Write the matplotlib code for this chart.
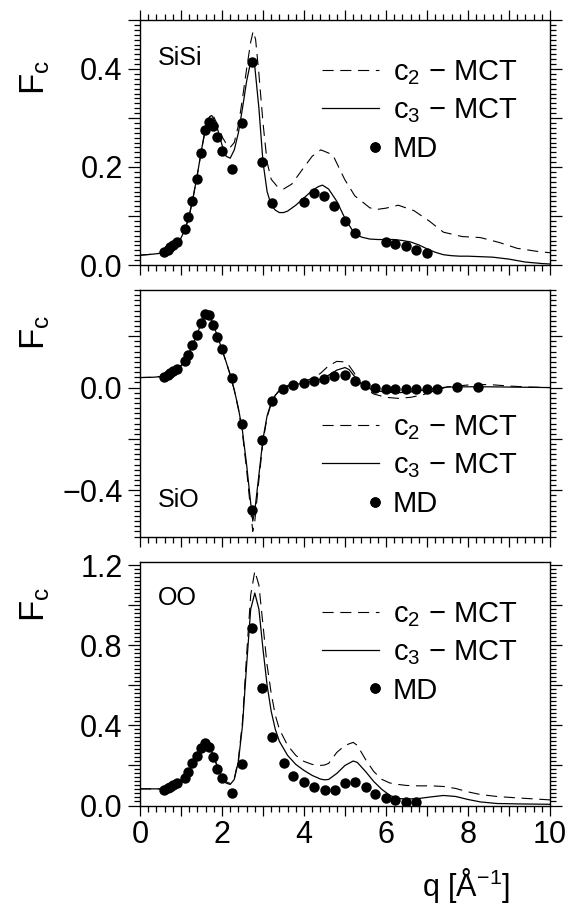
import numpy as np
import matplotlib
matplotlib.use("Agg")
import matplotlib.pyplot as plt
from matplotlib.ticker import MultipleLocator, FuncFormatter
from matplotlib.legend_handler import HandlerLine2D

plt.rcParams['font.family'] = ['Liberation Sans', 'DejaVu Sans']
plt.rcParams['mathtext.fontset'] = 'custom'
plt.rcParams['mathtext.rm'] = 'Liberation Sans'
plt.rcParams['mathtext.it'] = 'Liberation Sans:italic'
plt.rcParams['mathtext.default'] = 'regular'

# ---- MD points (same q grid for all three partials) ----
q_md = [0.59, 0.68, 0.74, 0.81, 0.90, 1.09, 1.18, 1.27, 1.38, 1.49, 1.59, 1.68,
        1.79, 1.89, 1.99, 2.24, 2.49, 2.73, 2.98, 3.23]

# SiSi
q_md_sisi = q_md + [3.99, 4.25, 4.48, 4.73, 4.99, 5.24, 5.99, 6.23, 6.49, 6.74, 7.0]
f_md_sisi = [0.026, 0.031, 0.036, 0.041, 0.046, 0.073, 0.098, 0.131, 0.175, 0.228,
             0.275, 0.292, 0.284, 0.261, 0.233, 0.196, 0.289, 0.415, 0.211, 0.126,
             0.128, 0.147, 0.140, 0.121, 0.090, 0.065, 0.046, 0.043, 0.039, 0.031, 0.024]

q_sisi = [0.0, 0.3, 0.6, 0.8, 0.9, 1.0, 1.1, 1.2, 1.3, 1.4, 1.5, 1.6, 1.7, 1.75, 1.8,
          1.9, 2.0, 2.1, 2.2, 2.3, 2.4, 2.5, 2.6, 2.7, 2.75, 2.8, 2.9, 3.0, 3.1, 3.2,
          3.3, 3.4, 3.5, 3.6, 3.8, 4.0, 4.2, 4.35, 4.45, 4.6, 4.8, 5.0, 5.2, 5.4, 5.6,
          5.8, 6.0, 6.2, 6.4, 6.6, 6.8, 7.0, 7.2, 7.4, 7.6, 7.8, 8.0, 8.3, 8.6, 9.0,
          9.4, 9.8, 10.0]
c3_sisi = [0.020, 0.022, 0.025, 0.038, 0.045, 0.055, 0.073, 0.100, 0.140, 0.185,
           0.235, 0.280, 0.303, 0.305, 0.298, 0.275, 0.245, 0.222, 0.218, 0.235,
           0.270, 0.320, 0.375, 0.415, 0.420, 0.405, 0.320, 0.210, 0.150, 0.122,
           0.112, 0.107, 0.107, 0.110, 0.122, 0.137, 0.152, 0.160, 0.163, 0.155,
           0.130, 0.095, 0.068, 0.057, 0.053, 0.052, 0.052, 0.052, 0.050, 0.047,
           0.041, 0.033, 0.026, 0.021, 0.019, 0.018, 0.018, 0.017, 0.016, 0.012,
           0.006, 0.003, 0.002]
q_sisi2 = [0.0, 0.3, 0.6, 0.8, 0.9, 1.0, 1.1, 1.2, 1.3, 1.4, 1.5, 1.6, 1.7, 1.75, 1.8,
           1.9, 2.0, 2.1, 2.2, 2.3, 2.4, 2.5, 2.6, 2.7, 2.76, 2.82, 2.9, 3.0, 3.1,
           3.2, 3.35, 3.5, 3.7, 3.97, 4.2, 4.41, 4.7, 4.99, 5.24, 5.6, 5.74, 6.0,
           6.3, 6.68, 7.05, 7.4, 7.86, 8.3, 8.76, 9.2, 9.67, 10.0]
c2_sisi = [0.020, 0.022, 0.025, 0.038, 0.045, 0.055, 0.073, 0.100, 0.140, 0.185,
           0.235, 0.280, 0.303, 0.307, 0.302, 0.285, 0.262, 0.248, 0.240, 0.250,
           0.285, 0.340, 0.400, 0.455, 0.477, 0.460, 0.390, 0.290, 0.210, 0.175,
           0.160, 0.155, 0.165, 0.196, 0.222, 0.235, 0.225, 0.175, 0.141, 0.117,
           0.113, 0.116, 0.122, 0.111, 0.090, 0.067, 0.058, 0.056, 0.046, 0.034,
           0.028, 0.025]

# SiO
q_md_sio = q_md + [3.49, 3.74, 3.99, 4.25, 4.49, 4.73, 4.99, 5.24, 5.48, 5.74, 5.99,
                   6.23, 6.49, 6.74, 6.99, 7.24, 7.74, 8.25]
f_md_sio = [0.043, 0.050, 0.056, 0.063, 0.072, 0.102, 0.128, 0.167, 0.206, 0.252,
            0.287, 0.282, 0.245, 0.197, 0.151, 0.037, -0.140, -0.475, -0.205, -0.052,
            -0.007, 0.010, 0.017, 0.027, 0.035, 0.046, 0.050, 0.027, 0.010, -0.003,
            -0.007, -0.007, -0.007, -0.007, -0.007, -0.004, 0.001, 0.001]

q_sio = [0.0, 0.3, 0.6, 0.8, 1.0, 1.2, 1.4, 1.5, 1.6, 1.65, 1.7, 1.8, 1.9, 2.0, 2.1,
         2.2, 2.3, 2.4, 2.5, 2.6, 2.7, 2.75, 2.8, 2.9, 3.0, 3.1, 3.2, 3.3, 3.4, 3.6,
         3.8, 4.0, 4.2, 4.4, 4.6, 4.8, 5.0, 5.1, 5.2, 5.35, 5.5, 5.7, 6.0, 6.3, 6.6,
         6.9, 7.2, 7.5, 8.0, 8.5, 9.0, 9.5, 10.0]
c3_sio = [0.039, 0.040, 0.044, 0.060, 0.085, 0.135, 0.210, 0.255, 0.285, 0.288,
          0.280, 0.240, 0.195, 0.148, 0.100, 0.050, -0.010, -0.080, -0.170, -0.300,
          -0.450, -0.520, -0.480, -0.340, -0.200, -0.110, -0.060, -0.030, -0.012,
          0.003, 0.012, 0.018, 0.025, 0.033, 0.048, 0.068, 0.078, 0.070, 0.050,
          0.020, 0.003, -0.010, -0.018, -0.020, -0.017, -0.010, -0.003, 0.002,
          0.003, 0.003, 0.002, 0.001, 0.000]
c2_sio = [0.039, 0.040, 0.044, 0.060, 0.085, 0.135, 0.210, 0.255, 0.285, 0.288,
          0.280, 0.240, 0.195, 0.148, 0.100, 0.050, -0.010, -0.085, -0.180, -0.320,
          -0.480, -0.560, -0.520, -0.360, -0.210, -0.115, -0.062, -0.030, -0.010,
          0.008, 0.018, 0.025, 0.035, 0.055, 0.085, 0.102, 0.100, 0.085, 0.063,
          0.025, -0.005, -0.025, -0.038, -0.042, -0.038, -0.028, -0.012, 0.003,
          0.010, 0.012, 0.006, 0.002, 0.000]

# OO
q_md_oo = q_md + [3.50, 3.74, 4.00, 4.24, 4.50, 4.75, 5.00, 5.25, 5.50, 5.74, 5.99,
                  6.23, 6.49, 6.74]
f_md_oo = [0.077, 0.086, 0.094, 0.102, 0.111, 0.139, 0.169, 0.211, 0.249, 0.289,
           0.314, 0.294, 0.241, 0.181, 0.136, 0.064, 0.205, 0.884, 0.588, 0.340,
           0.214, 0.149, 0.117, 0.092, 0.077, 0.077, 0.112, 0.119, 0.091, 0.058,
           0.037, 0.025, 0.017, 0.015]

q_oo = [0.0, 0.5, 0.6, 0.8, 1.0, 1.2, 1.4, 1.5, 1.6, 1.7, 1.8, 1.9, 2.0, 2.1, 2.2,
        2.3, 2.4, 2.5, 2.6, 2.7, 2.8, 2.9, 3.0, 3.1, 3.2, 3.3, 3.4, 3.6, 3.8, 4.0,
        4.2, 4.4, 4.5, 4.6, 4.8, 5.0, 5.2, 5.3, 5.5, 5.7, 5.9, 6.1, 6.3, 6.5, 6.8,
        7.1, 7.4, 7.7, 8.0, 8.3, 8.7, 9.2, 10.0]
c3_oo = [0.083, 0.083, 0.080, 0.100, 0.125, 0.175, 0.250, 0.285, 0.305, 0.290,
         0.240, 0.185, 0.140, 0.112, 0.105, 0.130, 0.220, 0.400, 0.700, 0.980,
         1.060, 0.980, 0.780, 0.600, 0.470, 0.380, 0.320, 0.250, 0.205, 0.175,
         0.150, 0.132, 0.128, 0.130, 0.160, 0.200, 0.222, 0.215, 0.170, 0.120,
         0.080, 0.050, 0.035, 0.032, 0.035, 0.043, 0.050, 0.045, 0.030, 0.018,
         0.010, 0.008, 0.006]
c2_oo = [0.083, 0.083, 0.080, 0.100, 0.125, 0.175, 0.250, 0.285, 0.305, 0.292,
         0.245, 0.190, 0.145, 0.118, 0.110, 0.135, 0.230, 0.420, 0.750, 1.050,
         1.170, 1.100, 0.900, 0.700, 0.560, 0.450, 0.380, 0.300, 0.250, 0.220,
         0.205, 0.200, 0.202, 0.210, 0.265, 0.300, 0.315, 0.300, 0.230, 0.170,
         0.130, 0.112, 0.105, 0.100, 0.098, 0.098, 0.095, 0.085, 0.068, 0.055,
         0.045, 0.038, 0.028]

panels = [
    ("SiSi", q_sisi2, c2_sisi, q_sisi, c3_sisi, q_md_sisi, f_md_sisi),
    ("SiO", q_sio, c2_sio, q_sio, c3_sio, q_md_sio, f_md_sio),
    ("OO", q_oo, c2_oo, q_oo, c3_oo, q_md_oo, f_md_oo),
]

W, H = 580, 907
rects = [(20, 265), (290, 536.5), (562, 805.5)]   # top, bottom in pixels
ylims = [(0, 0.5), (-0.58, 0.38), (0, 1.215)]
ymajor = [0.1, 0.2, 0.2]
ylabel_step = [0.2, 0.4, 0.4]
yminor = [0.01, 0.02, 0.02]
name_y = [0.845, 0.148, 0.854]
fc_y = [0.767, 0.826, 0.827]
leg_y = [0.845, 0.50, 0.845]


class HandlerDotRight(HandlerLine2D):
    # legend dot sits at the right end of the handle, as in the original
    def get_numpoints(self, legend):
        return 2

    def get_xdata(self, legend, xdescent, ydescent, width, height, fontsize):
        x = -xdescent + width * 0.93
        return [x, x], [x, x]


def make_fmt(step):
    def f(v, pos):
        k = v / step
        if abs(k - round(k)) > 1e-6:
            return ""
        if abs(v) < 1e-9:
            v = 0.0
        return f"{v:.1f}".replace("-", "\u2212")
    return f


fig = plt.figure(figsize=(W / 100, H / 100), dpi=100)
left, right = 140, 550

for i, (name, q2, c2, q3, c3, qm, fm) in enumerate(panels):
    top, bot = rects[i]
    ax = fig.add_axes([left / W, 1 - bot / H, (right - left) / W, (bot - top) / H])
    l2, = ax.plot(q2, c2, color='black', lw=0.8, dashes=(10, 6))
    l3, = ax.plot(q3, c3, color='black', lw=0.9)
    lm, = ax.plot(qm, fm, 'o', color='black', ms=7.5, mew=0)

    ax.set_xlim(0, 10)
    ax.set_ylim(*ylims[i])
    ax.xaxis.set_major_locator(MultipleLocator(1))
    ax.xaxis.set_minor_locator(MultipleLocator(0.2))
    ax.yaxis.set_major_locator(MultipleLocator(ymajor[i]))
    ax.yaxis.set_minor_locator(MultipleLocator(yminor[i]))
    ax.yaxis.set_major_formatter(FuncFormatter(make_fmt(ylabel_step[i])))
    ax.xaxis.set_major_formatter(FuncFormatter(
        lambda v, p: f"{v:.0f}" if abs(v / 2 - round(v / 2)) < 1e-6 else ""))
    ax.tick_params(which='both', direction='out', width=0.9, labelsize=22,
                   right=True, top=(i == 0))
    ax.tick_params(axis='y', which='major', length=8.5, pad=4)
    ax.tick_params(axis='y', which='minor', length=4)
    ax.tick_params(axis='x', which='major', length=7.5, pad=3)
    ax.tick_params(axis='x', which='minor', length=4)
    if i < 2:
        ax.tick_params(axis='x', labelbottom=False)
    for s in ax.spines.values():
        s.set_linewidth(1.0)

    ax.set_ylabel(r"F$_{c}$", fontsize=25)
    ax.yaxis.set_label_coords(-0.215, fc_y[i])
    ax.text(0.044, name_y[i], name, transform=ax.transAxes, fontsize=18,
            ha='left', va='center')

    ax.legend([l2, l3, lm],
              ["c$_2$ \u2212 MCT", "c$_3$ \u2212 MCT", "MD"],
              handler_map={lm: HandlerDotRight()},
              loc='upper left', bbox_to_anchor=(0.443, leg_y[i]),
              frameon=False, fontsize=21, borderpad=0, borderaxespad=0,
              handlelength=1.95, handletextpad=0.5, labelspacing=0.33)

    if i == 2:
        ax.set_xlabel("q [Å$^{-1}$]", fontsize=22)
        ax.xaxis.set_label_coords(0.795, -0.25)

fig.savefig("out.png", dpi=100)
